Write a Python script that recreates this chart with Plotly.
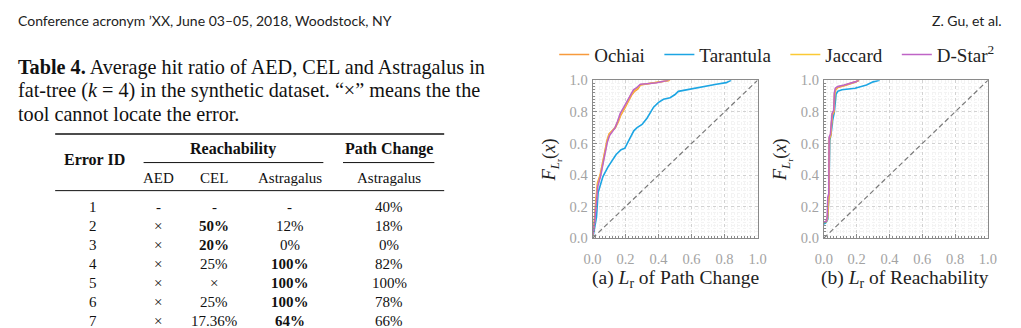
import plotly.graph_objects as go

W, H = 1021, 328

# ---------------- data ----------------
header_left = "Conference acronym ’XX, June 03–05, 2018, Woodstock, NY"
header_right = "Z. Gu, et al."
caption_lines = [
    "<b>Table 4.</b> Average hit ratio of AED, CEL and Astragalus in",
    "fat-tree (<i>k</i> = 4) in the synthetic dataset. “×” means the the",
    "tool cannot locate the error.",
]

error_ids = ["1", "2", "3", "4", "5", "6", "7"]
aed = ["-", "×", "×", "×", "×", "×", "×"]
cel = ["-", "<b>50%</b>", "<b>20%</b>", "25%", "×", "25%", "17.36%"]
astr_reach = ["-", "12%", "0%", "<b>100%</b>", "<b>100%</b>", "<b>100%</b>", "<b>64%</b>"]
astr_path = ["40%", "18%", "0%", "82%", "100%", "78%", "66%"]

series_names = ["Ochiai", "Tarantula", "Jaccard", "D-Star<sup>2</sup>"]
series_colors = ["#f79a3c", "#1ca5e3", "#fbc934", "#bf64c6"]

# panel (a): L_r of Path Change
a_ochiai_x = [0, 0.01, 0.02, 0.03, 0.046, 0.06, 0.07, 0.088, 0.1, 0.12, 0.138, 0.155, 0.172, 0.194, 0.214, 0.236, 0.255, 0.275, 0.29, 0.33, 0.38, 0.42, 0.45, 0.47]
a_ochiai_y = [0.014, 0.10, 0.24, 0.35, 0.40, 0.48, 0.54, 0.62, 0.66, 0.68, 0.70, 0.735, 0.78, 0.82, 0.86, 0.905, 0.93, 0.945, 0.97, 0.976, 0.983, 0.99, 0.997, 1.0]
a_tarantula_x = [0.004, 0.014, 0.024, 0.034, 0.044, 0.063, 0.093, 0.123, 0.143, 0.173, 0.196, 0.22, 0.25, 0.27, 0.30, 0.33, 0.37, 0.40, 0.43, 0.47, 0.50, 0.52, 0.57, 0.63, 0.69, 0.75, 0.81, 0.84]
a_tarantula_y = [0.014, 0.07, 0.134, 0.29, 0.32, 0.39, 0.45, 0.50, 0.53, 0.56, 0.57, 0.62, 0.68, 0.70, 0.72, 0.76, 0.83, 0.86, 0.88, 0.89, 0.91, 0.93, 0.94, 0.955, 0.965, 0.975, 0.985, 1.0]
a_jaccard_x = [0, 0.011, 0.021, 0.031, 0.047, 0.061, 0.071, 0.089, 0.101, 0.121, 0.137, 0.153, 0.17, 0.192, 0.212, 0.234, 0.252, 0.272, 0.29, 0.33, 0.385, 0.425, 0.455, 0.465]
a_jaccard_y = [0.014, 0.095, 0.22, 0.34, 0.395, 0.475, 0.535, 0.615, 0.655, 0.68, 0.70, 0.738, 0.785, 0.825, 0.865, 0.91, 0.935, 0.95, 0.972, 0.977, 0.984, 0.992, 0.998, 1.0]
a_dstar_x = [0, 0.012, 0.022, 0.032, 0.048, 0.062, 0.072, 0.09, 0.103, 0.122, 0.137, 0.152, 0.168, 0.19, 0.21, 0.232, 0.248, 0.27, 0.29, 0.33, 0.39, 0.43, 0.46]
a_dstar_y = [0.014, 0.09, 0.21, 0.33, 0.39, 0.47, 0.53, 0.61, 0.65, 0.68, 0.70, 0.74, 0.79, 0.83, 0.87, 0.915, 0.94, 0.955, 0.975, 0.978, 0.984, 0.994, 1.0]

# panel (b): L_r of Reachability
b_ochiai_x = [0, 0.015, 0.022, 0.026, 0.031, 0.034, 0.042, 0.046, 0.052, 0.062, 0.066, 0.072, 0.086, 0.125, 0.16, 0.19, 0.215]
b_ochiai_y = [0.10, 0.105, 0.125, 0.25, 0.27, 0.63, 0.65, 0.71, 0.78, 0.80, 0.91, 0.94, 0.955, 0.965, 0.975, 0.988, 1.0]
b_tarantula_x = [0, 0.014, 0.024, 0.03, 0.036, 0.044, 0.054, 0.064, 0.074, 0.084, 0.11, 0.19, 0.26, 0.30, 0.34]
b_tarantula_y = [0.09, 0.10, 0.12, 0.26, 0.62, 0.66, 0.75, 0.80, 0.91, 0.93, 0.94, 0.95, 0.97, 0.99, 1.0]
b_jaccard_x = [0, 0.014, 0.021, 0.025, 0.03, 0.033, 0.041, 0.045, 0.051, 0.061, 0.065, 0.071, 0.085, 0.124, 0.162, 0.19, 0.214]
b_jaccard_y = [0.10, 0.105, 0.128, 0.255, 0.275, 0.635, 0.655, 0.715, 0.785, 0.805, 0.915, 0.945, 0.958, 0.968, 0.978, 0.99, 1.0]
b_dstar_x = [0, 0.014, 0.02, 0.024, 0.03, 0.032, 0.04, 0.044, 0.05, 0.06, 0.064, 0.07, 0.084, 0.124, 0.163, 0.19, 0.213]
b_dstar_y = [0.102, 0.106, 0.13, 0.26, 0.28, 0.64, 0.66, 0.72, 0.79, 0.81, 0.92, 0.95, 0.96, 0.97, 0.98, 0.99, 1.0]

diag = [0, 1]
tick_vals = [0, 0.2, 0.4, 0.6, 0.8, 1.0]
tick_text = ["0.0", "0.2", "0.4", "0.6", "0.8", "1.0"]

panel_titles = ["(a) <i>L</i><sub>r</sub> of Path Change", "(b) <i>L</i><sub>r</sub> of Reachability"]
ytitle = "<i>F</i><sub><i>L</i><sub>r</sub></sub>(<i>x</i>)"

# ---------------- helpers ----------------
def px(x):
    return x / W

def py(y):
    return 1 - y / H

SERIF = "Liberation Serif"
SANS = "Lato"
NB = "\u00a0"
legend_pad = [2, 2, 2, 0]  # spacing after each legend entry (non-breaking spaces)

fig = go.Figure()

panels = [
    ("x", "y", [(a_ochiai_x, a_ochiai_y), (a_tarantula_x, a_tarantula_y), (a_jaccard_x, a_jaccard_y), (a_dstar_x, a_dstar_y)]),
    ("x2", "y2", [(b_ochiai_x, b_ochiai_y), (b_tarantula_x, b_tarantula_y), (b_jaccard_x, b_jaccard_y), (b_dstar_x, b_dstar_y)]),
]
for pi, (xa, ya, data) in enumerate(panels):
    fig.add_trace(go.Scatter(x=diag, y=diag, xaxis=xa, yaxis=ya, mode="lines",
                             line=dict(color="#7a7a7a", width=1.2, dash="5px,3px"),
                             showlegend=False, hoverinfo="skip"))
    order = [1, 0, 2, 3]
    for si in order:
        xs, ys = data[si]
        fig.add_trace(go.Scatter(x=xs, y=ys, xaxis=xa, yaxis=ya, mode="lines",
                                 line=dict(color=series_colors[si], width=1.6),
                                 name=series_names[si] + NB * legend_pad[si], legendrank=si + 1,
                                 showlegend=(pi == 0)))

axis_common = dict(
    range=[0, 1], tickvals=tick_vals, ticktext=tick_text,
    showline=True, linecolor="#8a8a8a", linewidth=1, mirror=True,
    ticks="inside", ticklen=4, tickcolor="#8a8a8a",
    showgrid=True, gridcolor="#d2d2d2", griddash="dot", gridwidth=1,
    minor=dict(dtick=0.02, ticks="inside", ticklen=2, tickcolor="#8a8a8a",
               showgrid=True, gridcolor="#f3f3f3", griddash="dot", gridwidth=1),
    tickfont=dict(family=SERIF, size=14.5, color="#a3a3a3"),
    zeroline=False, fixedrange=True,
)

xa_dom = [px(594), px(762)]
xb_dom = [px(829.5), px(996.5)]
y_dom = [py(242), py(76)]

fig.update_layout(
    width=W, height=H, autosize=False,
    margin=dict(l=0, r=0, t=0, b=0),
    paper_bgcolor="white", plot_bgcolor="white",
    xaxis=dict(domain=xa_dom, anchor="y", ticklabelstandoff=7, **axis_common),
    yaxis=dict(domain=y_dom, anchor="x", ticklabelstandoff=1, **axis_common),
    xaxis2=dict(domain=xb_dom, anchor="y2", ticklabelstandoff=7, **axis_common),
    yaxis2=dict(domain=y_dom, anchor="x2", ticklabelstandoff=1, **axis_common),
    showlegend=True,
    legend=dict(orientation="h", x=px(555), y=py(49), xanchor="left", yanchor="middle",
                font=dict(family=SERIF, size=19, color="#222222"),
                bgcolor="rgba(0,0,0,0)", itemwidth=30, tracegroupgap=0),
)

ann = []
# page header
ann.append(dict(text=header_left, x=px(7), y=py(13), xanchor="left", yanchor="middle",
                font=dict(family=SANS, size=14, color="#222222")))
ann.append(dict(text=header_right, x=px(1013), y=py(13), xanchor="right", yanchor="middle",
                font=dict(family=SANS, size=14, color="#222222")))
# caption
for i, line in enumerate(caption_lines):
    ann.append(dict(text=line, x=px(7), y=py(63 + 24 * i), xanchor="left", yanchor="middle",
                    font=dict(family=SERIF, size=20.2, color="#111111")))

# table
tfont = dict(family=SERIF, size=15, color="#111111")
hfont = dict(family=SERIF, size=16, color="#111111")
ann.append(dict(text="<b>Error ID</b>", x=px(87), y=py(159), xanchor="center", yanchor="middle", font=hfont))
ann.append(dict(text="<b>Reachability</b>", x=px(228), y=py(148.5), xanchor="center", yanchor="middle", font=hfont))
ann.append(dict(text="<b>Path Change</b>", x=px(387), y=py(148.5), xanchor="center", yanchor="middle", font=hfont))
col_x = [86, 152, 209, 286, 387]
for cx, t in zip(col_x[1:], ["AED", "CEL", "Astragalus", "Astragalus"]):
    ann.append(dict(text=t, x=px(cx), y=py(179), xanchor="center", yanchor="middle", font=tfont))
for r in range(len(error_ids)):
    row = [error_ids[r], aed[r], cel[r], astr_reach[r], astr_path[r]]
    for cx, t in zip(col_x, row):
        ann.append(dict(text=t, x=px(cx), y=py(209.5 + 20 * r), xanchor="center", yanchor="middle", font=tfont))

# chart texts
for cx, title in zip([678, 912.5], panel_titles):
    ann.append(dict(text=title, x=px(cx), y=py(285), xanchor="center", yanchor="middle",
                    font=dict(family=SERIF, size=19.5, color="#222222")))
for cx in [552, 787]:
    ann.append(dict(text=ytitle, x=px(cx), y=py(160), xanchor="center", yanchor="middle", textangle=-90,
                    font=dict(family=SERIF, size=18.5, color="#222222")))

for a in ann:
    a.update(xref="paper", yref="paper", showarrow=False)
fig.update_layout(annotations=ann)

shapes = [
    dict(type="line", x0=px(47), x1=px(443), y0=py(132.5), y1=py(132.5), line=dict(color="#111", width=1.5)),
    dict(type="line", x0=px(137), x1=px(320), y0=py(162.5), y1=py(162.5), line=dict(color="#111", width=1)),
    dict(type="line", x0=px(340), x1=px(433), y0=py(162.5), y1=py(162.5), line=dict(color="#111", width=1)),
    dict(type="line", x0=px(47), x1=px(443), y0=py(192), y1=py(192), line=dict(color="#111", width=1)),
]
for s in shapes:
    s.update(xref="paper", yref="paper")
fig.update_layout(shapes=shapes)

fig.write_html("out.html")
